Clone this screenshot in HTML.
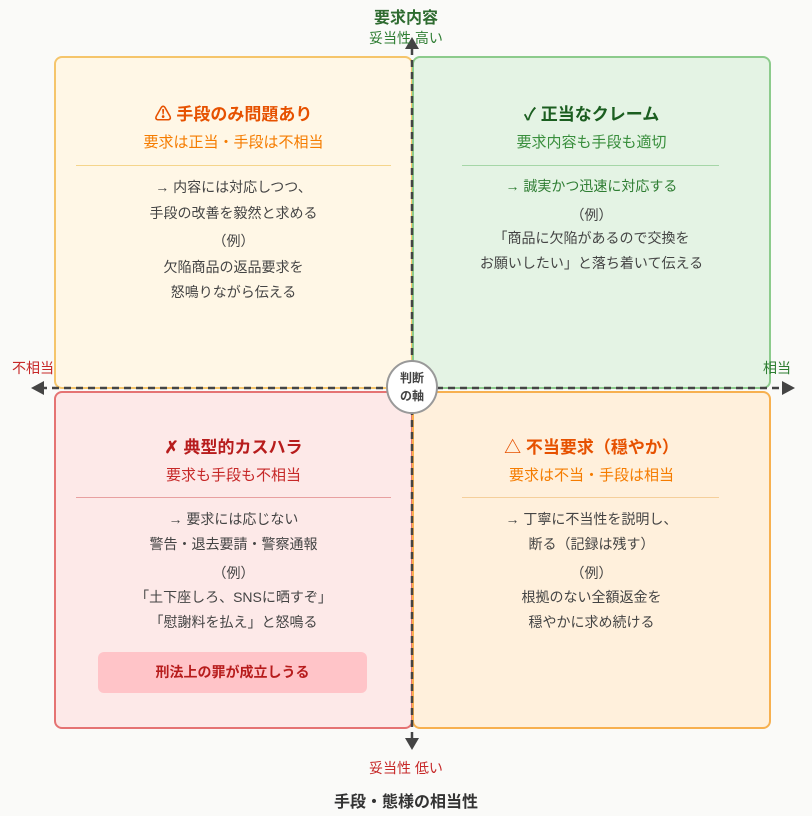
<!DOCTYPE html>
<html><head><meta charset="utf-8"><style>
body{margin:0;width:812px;height:816px;background:#fafaf8;position:relative;overflow:hidden;font-family:"Liberation Sans","Noto Sans CJK JP",sans-serif;}
.b{position:absolute;box-sizing:border-box;border-radius:8px;border:2px solid;}
.t{position:absolute;left:0;right:0;text-align:center;white-space:nowrap;}
.ti{font-size:17px;font-weight:bold;}
.su{font-size:15px;}
.bd{font-size:14px;color:#444;}
.hr{position:absolute;height:1px;}
.lb{position:absolute;white-space:nowrap;font-size:14px;}
</style></head><body>
<div class="b" style="left:54px;top:56px;width:359px;height:333px;background:#fff7e6;border-color:#f5c56b;"></div>
<div class="b" style="left:412px;top:56px;width:359px;height:333px;background:#e4f3e4;border-color:#8ccb8c;"></div>
<div class="b" style="left:54px;top:391px;width:359px;height:338px;background:#fde9e8;border-color:#e57373;"></div>
<div class="b" style="left:412px;top:391px;width:359px;height:338px;background:#fff0dc;border-color:#f7b04f;"></div>

<div style="position:absolute;left:54px;top:56px;width:359px;height:333px">
<div class="t ti" style="top:44px;color:#e65100">⚠ 手段のみ問題あり</div>
<div class="t su" style="top:75px;color:#f57c00">要求は正当・手段は不相当</div>
<div class="hr" style="left:22px;right:22px;top:109px;background:#f5d58b"></div>
<div class="t bd" style="top:121px">→ 内容には対応しつつ、</div>
<div class="t bd" style="top:147px">手段の改善を毅然と求める</div>
<div class="t bd" style="top:175px">（例）</div>
<div class="t bd" style="top:201px">欠陥商品の返品要求を</div>
<div class="t bd" style="top:226px">怒鳴りながら伝える</div>
</div>

<div style="position:absolute;left:412px;top:56px;width:359px;height:333px">
<div class="t ti" style="top:44px;color:#1b5e20">✓ 正当なクレーム</div>
<div class="t su" style="top:75px;color:#388e3c">要求内容も手段も適切</div>
<div class="hr" style="left:50px;right:52px;top:109px;background:#a5d6a7"></div>
<div class="t bd" style="top:120px;color:#2e7d32">→ 誠実かつ迅速に対応する</div>
<div class="t bd" style="top:149px">（例）</div>
<div class="t bd" style="top:172px">「商品に欠陥があるので交換を</div>
<div class="t bd" style="top:197px">お願いしたい」と落ち着いて伝える</div>
</div>

<div style="position:absolute;left:54px;top:391px;width:359px;height:338px">
<div class="t ti" style="top:42px;color:#b71c1c">✗ 典型的カスハラ</div>
<div class="t su" style="top:73px;color:#c62828">要求も手段も不相当</div>
<div class="hr" style="left:22px;right:22px;top:106px;background:#e8a0a0"></div>
<div class="t bd" style="top:118px">→ 要求には応じない</div>
<div class="t bd" style="top:143px">警告・退去要請・警察通報</div>
<div class="t bd" style="top:172px">（例）</div>
<div class="t bd" style="top:196px">「土下座しろ、SNSに晒すぞ」</div>
<div class="t bd" style="top:221px">「慰謝料を払え」と怒鳴る</div>
<div style="position:absolute;left:44px;top:261px;width:269px;height:41px;background:#ffc4c8;border-radius:6px;text-align:center;line-height:41px;font-size:14px;font-weight:bold;color:#b71c1c">刑法上の罪が成立しうる</div>
</div>

<div style="position:absolute;left:412px;top:391px;width:359px;height:338px">
<div class="t ti" style="top:42px;color:#e65100">△ 不当要求（穏やか）</div>
<div class="t su" style="top:73px;color:#f57c00">要求は不当・手段は相当</div>
<div class="hr" style="left:50px;right:52px;top:106px;background:#f5cf9b"></div>
<div class="t bd" style="top:118px">→ 丁寧に不当性を説明し、</div>
<div class="t bd" style="top:143px">断る（記録は残す）</div>
<div class="t bd" style="top:172px">（例）</div>
<div class="t bd" style="top:196px">根拠のない全額返金を</div>
<div class="t bd" style="top:221px">穏やかに求め続ける</div>
</div>

<svg width="812" height="816" style="position:absolute;left:0;top:0">
<line x1="40" y1="388" x2="788" y2="388" stroke="#444" stroke-width="2.5" stroke-dasharray="7,5"/>
<polygon points="31,388 44,381 44,395" fill="#444"/>
<polygon points="795,388 782,381 782,395" fill="#444"/>
<line x1="412" y1="48" x2="412" y2="740" stroke="#444" stroke-width="2.5" stroke-dasharray="7,5"/>
<polygon points="412,37 405,49 419,49" fill="#444"/>
<polygon points="412,750 405,738 419,738" fill="#444"/>
<ellipse cx="412" cy="387" rx="25" ry="26" fill="#fff" stroke="#999" stroke-width="2"/>
<text x="412" y="382" text-anchor="middle" font-size="12" font-weight="bold" fill="#444" font-family="Liberation Sans,Noto Sans CJK JP,sans-serif">判断</text>
<text x="412" y="400" text-anchor="middle" font-size="12" font-weight="bold" fill="#444" font-family="Liberation Sans,Noto Sans CJK JP,sans-serif">の軸</text>
</svg>

<div class="lb" style="left:0;right:0;text-align:center;top:4px;font-size:16px;font-weight:bold;color:#2e6b30">要求内容</div>
<div class="lb" style="left:0;right:0;text-align:center;top:28px;color:#2e7d32">妥当性 高い</div>
<div class="lb" style="left:0;right:0;text-align:center;top:758px;color:#c62828">妥当性 低い</div>
<div class="lb" style="left:0;right:0;text-align:center;top:788px;font-size:16px;font-weight:bold;color:#333">手段・態様の相当性</div>
<div class="lb" style="left:12px;top:358px;color:#c62828">不相当</div>
<div class="lb" style="left:763px;top:358px;color:#2e7d32">相当</div>
</body></html>
